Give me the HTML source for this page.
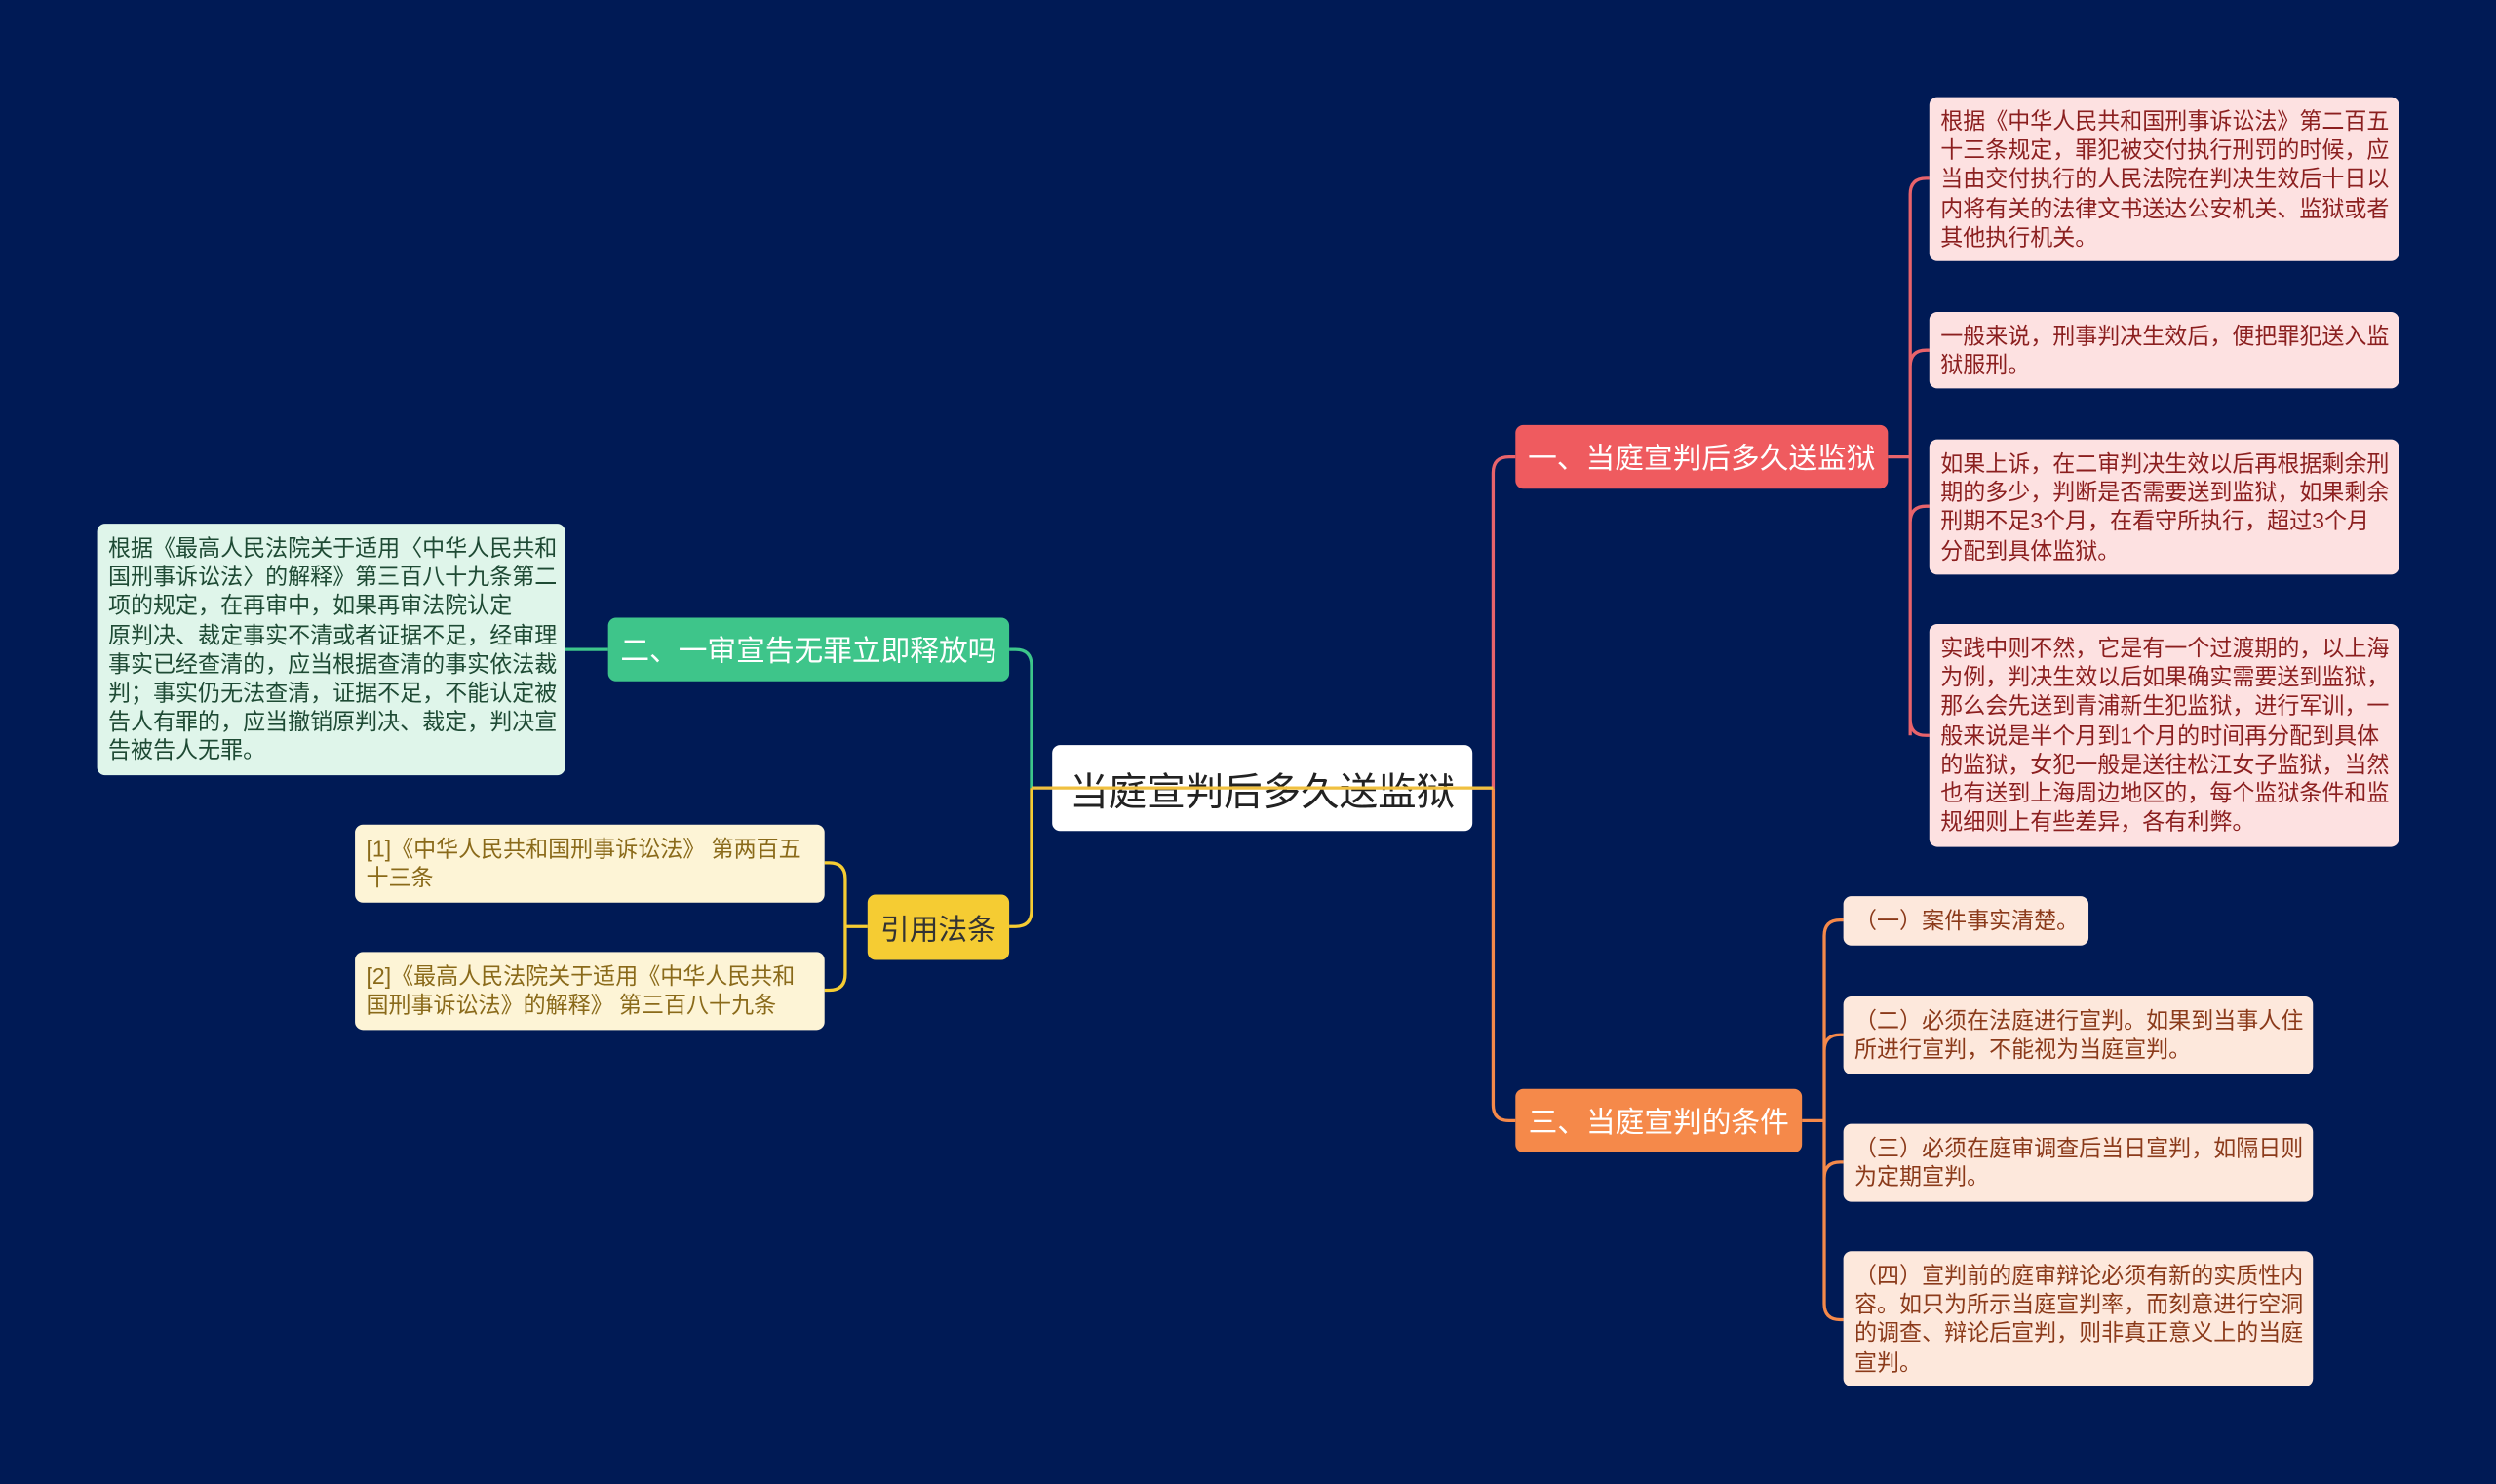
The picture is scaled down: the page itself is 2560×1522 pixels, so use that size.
<!DOCTYPE html>
<html><head><meta charset="utf-8"><style>
html,body{margin:0;padding:0;width:2560px;height:1521px;overflow:hidden;background:#001a55;}
#w{position:absolute;left:0;top:0;width:1568px;height:932px;transform:scale(1.632653);transform-origin:0 0;font-family:"Liberation Sans","Noto Sans CJK SC",sans-serif;}
.n{position:absolute;box-sizing:border-box;border-radius:5px;}
.t{font-size:14.1px;line-height:18.2px;padding:6px 7px;white-space:nowrap;}
.b{font-size:18.2px;display:flex;align-items:center;justify-content:center;white-space:nowrap;}
svg{position:absolute;left:0;top:0;}
</style></head><body><div id="w">
<svg width="1568" height="932" fill="none" stroke-width="2">
<g stroke="#e8636b">
<path d="M925 495 H938 M938 495 V297 Q938 287 948 287 H952"/>
<path d="M1186 287 H1200 M1200 122 V452 M1200 122 Q1200 112 1210 112 H1212 M1200 230 Q1200 220 1210 220 H1212 M1200 328 Q1200 318 1210 318 H1212 M1200 452 Q1200 462 1210 462 H1212 M1200 287 V462"/>
</g>
<g stroke="#f5894a">
<path d="M938 495 V694 Q938 704 948 704 H952"/>
<path d="M1132 704 H1146 M1146 588 V819 M1146 588 Q1146 578 1156 578 H1158 M1146 660 Q1146 650 1156 650 H1158 M1146 740 Q1146 730 1156 730 H1158 M1146 819 Q1146 829 1156 829 H1158"/>
</g>
<g stroke="#3dc68a">
<path d="M648 495 V418 Q648 408 638 408 H634"/>
<path d="M382 408 H355"/>
</g>
<g stroke="#f5cc33">
<path d="M648 495 V572 Q648 582 638 582 H634"/>
<path d="M545 582 H531 M531 552 V612 M531 552 Q531 542 521 542 H518 M531 612 Q531 622 521 622 H518"/>
</g>
</svg>
<div class="n b" style="left:661px;top:468px;width:264px;height:54px;background:#fff;color:#222;font-size:24.2px;">当庭宣判后多久送监狱</div>
<svg width="1568" height="932"><path d="M648 495 H925 M925 495 H938" stroke="#f0c040" stroke-width="2"/></svg>
<div class="n b" style="left:952px;top:267px;width:234px;height:40px;background:#ef5b5f;color:#fff;">一、当庭宣判后多久送监狱</div>
<div class="n b" style="left:952px;top:684px;width:180px;height:40px;background:#f5894a;color:#fff;">三、当庭宣判的条件</div>
<div class="n b" style="left:382px;top:388px;width:252px;height:40px;background:#3ec58a;color:#fff;">二、一审宣告无罪立即释放吗</div>
<div class="n b" style="left:545px;top:562px;width:89px;height:41px;background:#f5cc33;color:#333;">引用法条</div>
<div class="n t" style="left:1212px;top:61px;width:295px;height:103px;background:#fde1e1;color:#8b1f1f;">根据《中华人民共和国刑事诉讼法》第二百五<br>十三条规定，罪犯被交付执行刑罚的时候，应<br>当由交付执行的人民法院在判决生效后十日以<br>内将有关的法律文书送达公安机关、监狱或者<br>其他执行机关。</div>
<div class="n t" style="left:1212px;top:196px;width:295px;height:48px;background:#fde1e1;color:#8b1f1f;">一般来说，刑事判决生效后，便把罪犯送入监<br>狱服刑。</div>
<div class="n t" style="left:1212px;top:276px;width:295px;height:85px;background:#fde1e1;color:#8b1f1f;">如果上诉，在二审判决生效以后再根据剩余刑<br>期的多少，判断是否需要送到监狱，如果剩余<br>刑期不足3个月，在看守所执行，超过3个月<br>分配到具体监狱。</div>
<div class="n t" style="left:1212px;top:392px;width:295px;height:140px;background:#fde1e1;color:#8b1f1f;">实践中则不然，它是有一个过渡期的，以上海<br>为例，判决生效以后如果确实需要送到监狱，<br>那么会先送到青浦新生犯监狱，进行军训，一<br>般来说是半个月到1个月的时间再分配到具体<br>的监狱，女犯一般是送往松江女子监狱，当然<br>也有送到上海周边地区的，每个监狱条件和监<br>规细则上有些差异，各有利弊。</div>
<div class="n t" style="left:1158px;top:563px;width:154px;height:31px;background:#fde8dc;color:#8b3a1a;">（一）案件事实清楚。</div>
<div class="n t" style="left:1158px;top:626px;width:295px;height:49px;background:#fde8dc;color:#8b3a1a;">（二）必须在法庭进行宣判。如果到当事人住<br>所进行宣判，不能视为当庭宣判。</div>
<div class="n t" style="left:1158px;top:706px;width:295px;height:49px;background:#fde8dc;color:#8b3a1a;">（三）必须在庭审调查后当日宣判，如隔日则<br>为定期宣判。</div>
<div class="n t" style="left:1158px;top:786px;width:295px;height:85px;background:#fde8dc;color:#8b3a1a;">（四）宣判前的庭审辩论必须有新的实质性内<br>容。如只为所示当庭宣判率，而刻意进行空洞<br>的调查、辩论后宣判，则非真正意义上的当庭<br>宣判。</div>
<div class="n t" style="left:61px;top:329px;width:294px;height:158px;background:#dff5ea;color:#1e4a34;">根据《最高人民法院关于适用〈中华人民共和<br>国刑事诉讼法〉的解释》第三百八十九条第二<br>项的规定，在再审中，如果再审法院认定<br>原判决、裁定事实不清或者证据不足，经审理<br>事实已经查清的，应当根据查清的事实依法裁<br>判；事实仍无法查清，证据不足，不能认定被<br>告人有罪的，应当撤销原判决、裁定，判决宣<br>告被告人无罪。</div>
<div class="n t" style="left:223px;top:518px;width:295px;height:49px;background:#fdf4d6;color:#8a6a1a;">[1]《中华人民共和国刑事诉讼法》 第两百五<br>十三条</div>
<div class="n t" style="left:223px;top:598px;width:295px;height:49px;background:#fdf4d6;color:#8a6a1a;">[2]《最高人民法院关于适用《中华人民共和<br>国刑事诉讼法》的解释》 第三百八十九条</div>
</div></body></html>
